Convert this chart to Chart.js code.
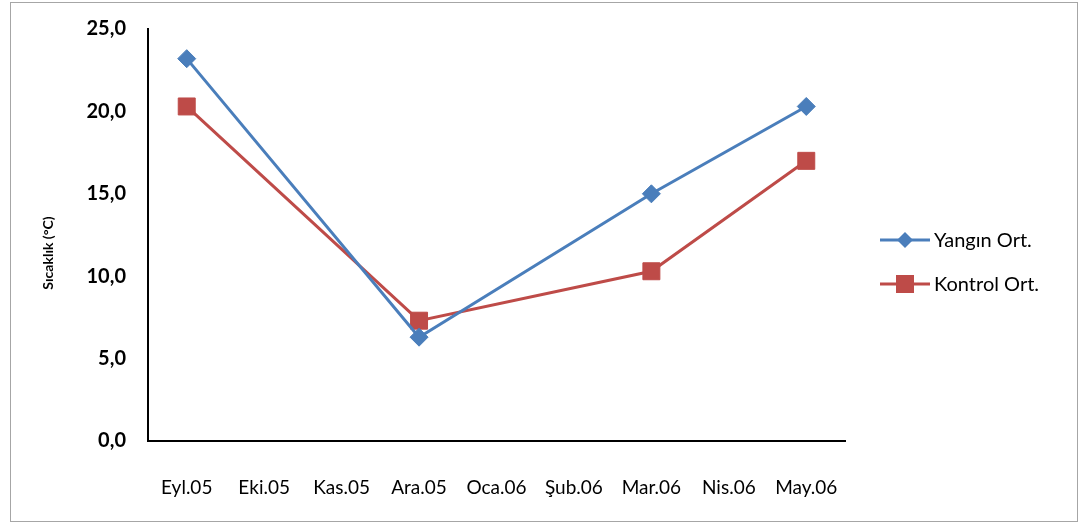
<!DOCTYPE html>
<html>
<head>
<meta charset="utf-8">
<script src="https://cdn.jsdelivr.net/npm/chart.js@4.4.0/dist/chart.umd.min.js"></script>
<style>
html,body{margin:0;padding:0;background:#fff;}
#wrap{position:relative;width:1082px;height:529px;}
</style>
</head>
<body>
<div id="wrap"><canvas id="c" width="1082" height="529"></canvas></div>
<script>
const categories = ["Eyl.05","Eki.05","Kas.05","Ara.05","Oca.06","Şub.06","Mar.06","Nis.06","May.06"];
const yanginOrt = [23.2, null, null, 6.3, null, null, 15.0, null, 20.3];
const kontrolOrt = [20.3, null, null, 7.3, null, null, 10.3, null, 17.0];
const seriesNames = ["Yangın Ort.", "Kontrol Ort."];
const yTicks = [0, 5, 10, 15, 20, 25];
const yTitle = "Sıcaklık (°C)";

const BLUE = "#4A7EBB", RED = "#BE4B48";
const FONT = "Lato, 'Open Sans', sans-serif";

const frame = {
  id: 'frame',
  beforeDraw(chart) {
    const ctx = chart.ctx;
    ctx.save();
    ctx.fillStyle = '#fff';
    ctx.fillRect(0, 0, chart.width, chart.height);
    ctx.strokeStyle = '#a6a6a6';
    ctx.lineWidth = 1;
    ctx.strokeRect(10.5, 2.5, 1067, 519);
    ctx.restore();
  },
  afterDraw(chart) {
    const ctx = chart.ctx;
    ctx.save();
    ctx.translate(48, 253);
    ctx.rotate(-Math.PI / 2);
    ctx.fillStyle = '#000';
    ctx.font = "bold 14px " + FONT;
    ctx.textAlign = 'center';
    ctx.textBaseline = 'middle';
    ctx.fillText(yTitle, 0, 0);
    ctx.restore();
  }
};

const customLegend = {
  id: 'customLegend',
  afterDraw(chart) {
    const ctx = chart.ctx;
    ctx.save();
    const rows = [240, 284];
    chart.data.datasets.forEach((ds, i) => {
      const y = rows[i];
      ctx.strokeStyle = ds.borderColor;
      ctx.lineWidth = 3;
      ctx.beginPath();
      ctx.moveTo(880, y);
      ctx.lineTo(930, y);
      ctx.stroke();
      ctx.fillStyle = ds.pointBackgroundColor;
      if (ds.pointStyle === 'rectRot') {
        const r = 8;
        ctx.beginPath();
        ctx.moveTo(905 - r, y); ctx.lineTo(905, y - r); ctx.lineTo(905 + r, y); ctx.lineTo(905, y + r);
        ctx.closePath(); ctx.fill();
      } else {
        ctx.fillRect(905 - 9, y - 9, 18, 18);
      }
      ctx.fillStyle = '#000';
      ctx.font = "20px " + FONT;
      ctx.textBaseline = 'middle';
      ctx.textAlign = 'left';
      ctx.fillText(ds.label, 934, y + 1);
    });
    ctx.restore();
  }
};

new Chart(document.getElementById('c'), {
  type: 'line',
  data: {
    labels: categories,
    datasets: [
      {
        label: seriesNames[0], data: yanginOrt, spanGaps: true,
        borderColor: BLUE, backgroundColor: BLUE, pointBackgroundColor: BLUE, pointBorderColor: BLUE,
        borderWidth: 3, pointStyle: 'rectRot', pointRadius: 9, pointBorderWidth: 1, tension: 0
      },
      {
        label: seriesNames[1], data: kontrolOrt, spanGaps: true,
        borderColor: RED, backgroundColor: RED, pointBackgroundColor: RED, pointBorderColor: RED,
        borderWidth: 3, pointStyle: 'rect', pointRadius: 12, pointBorderWidth: 1, tension: 0
      }
    ]
  },
  options: {
    responsive: false,
    animation: false,
    layout: { autoPadding: false, padding: { left: 0, right: 237, top: 29, bottom: 0 } },
    plugins: { legend: { display: false }, tooltip: { enabled: false } },
    scales: {
      x: {
        offset: true,
        grid: { display: false, drawTicks: true, tickLength: 30, tickColor: 'rgba(0,0,0,0)' },
        border: { display: true, color: '#000', width: 2 },
        ticks: { color: '#000', font: { family: FONT, size: 19 }, padding: 5, maxRotation: 0, autoSkip: false },
        afterFit(s) { s.height = 88; }
      },
      y: {
        min: 0, max: 25,
        afterBuildTicks(s) { s.ticks = yTicks.map(v => ({ value: v })); },
        grid: { display: false, drawTicks: true, tickLength: 12, tickColor: 'rgba(0,0,0,0)' },
        border: { display: true, color: '#000', width: 2 },
        ticks: {
          color: '#000', font: { family: FONT, size: 20, weight: 'bold' }, padding: 10,
          callback: v => v.toFixed(1).replace('.', ',')
        },
        title: { display: false, text: yTitle },
        afterFit(s) { s.width = 148; }
      }
    }
  },
  plugins: [frame, customLegend]
});
</script>
</body>
</html>
